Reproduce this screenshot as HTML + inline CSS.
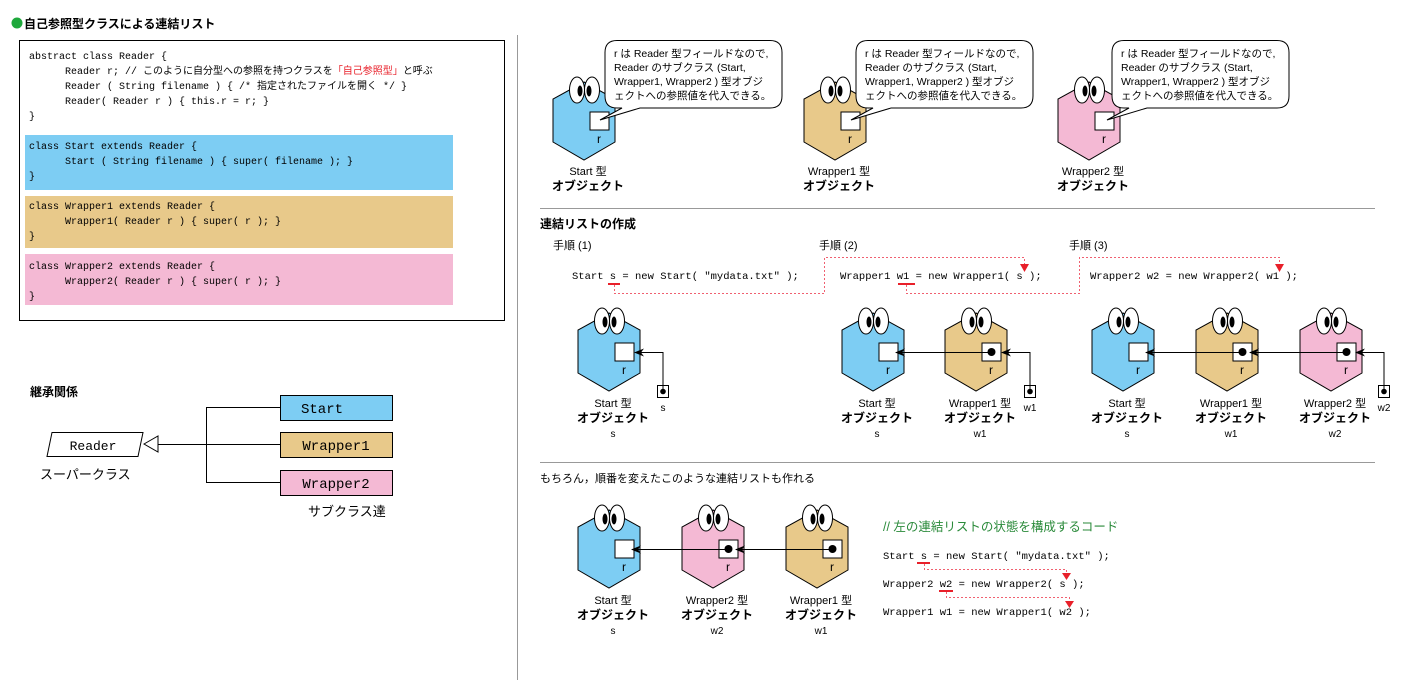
<!DOCTYPE html>
<html><head><meta charset="utf-8"><style>
html,body{margin:0;padding:0;background:#fff;}
svg{display:block;}
.m{font-family:"Liberation Mono","Noto Sans CJK JP",monospace;}
.s{font-family:"Liberation Sans","Noto Sans CJK JP",sans-serif;}
</style></head><body>
<svg width="1408" height="695" viewBox="0 0 1408 695" xmlns="http://www.w3.org/2000/svg">
<defs>
<marker id="ah" markerWidth="10" markerHeight="8" refX="9" refY="4" orient="auto" markerUnits="userSpaceOnUse"><path d="M0,0 L10,4 L0,8 L3,4 Z" fill="#000"/></marker>
<g id="hb"><path d="M0,-37 L31,-20 L31,23 L0,41 L-31,23 L-31,-20 Z" stroke="#000" stroke-width="1"/></g>
<g id="face">
<ellipse cx="-7" cy="-29" rx="7.5" ry="13" fill="#fff" stroke="#000"/>
<ellipse cx="8" cy="-29" rx="7.5" ry="13" fill="#fff" stroke="#000"/>
<ellipse cx="-4" cy="-28" rx="2.5" ry="5.5" fill="#000"/>
<ellipse cx="5" cy="-28" rx="2.5" ry="5.5" fill="#000"/>
<rect x="6" y="-7" width="19" height="18" fill="#fff" stroke="#000"/>
<text x="15" y="24" font-family="Liberation Sans,sans-serif" font-size="12" text-anchor="middle">r</text>
</g>
<g id="hS"><use href="#hb" fill="#7dcdf3"/><use href="#face"/></g>
<g id="hW1"><use href="#hb" fill="#e8c98a"/><use href="#face"/></g>
<g id="hW2"><use href="#hb" fill="#f4b9d4"/><use href="#face"/></g>
<g id="dot"><circle cx="15.5" cy="2" r="4" fill="#000"/></g>
</defs>

<circle cx="17" cy="23" r="5.5" fill="#1ea83c"/>
<text x="24" y="28" class="s" font-size="12" font-weight="bold">自己参照型クラスによる連結リスト</text>

<rect x="19.5" y="40.5" width="485" height="280" fill="#fff" stroke="#000"/>
<rect x="25" y="135" width="428" height="55" fill="#7dcdf3"/>
<rect x="25" y="196" width="428" height="52" fill="#e8c98a"/>
<rect x="25" y="254" width="428" height="51" fill="#f4b9d4"/>
<g class="m" font-size="10">
<text x="29" y="59">abstract class Reader {</text>
<text x="65" y="74">Reader r; // このように自分型への参照を持つクラスを<tspan fill="#e8202a">「自己参照型」</tspan>と呼ぶ</text>
<text x="65" y="89">Reader ( String filename ) { /* 指定されたファイルを開く */ }</text>
<text x="65" y="104">Reader( Reader r ) { this.r = r; }</text>
<text x="29" y="119">}</text>
<text x="29" y="149">class Start extends Reader {</text>
<text x="65" y="164">Start ( String filename ) { super( filename ); }</text>
<text x="29" y="179">}</text>
<text x="29" y="209">class Wrapper1 extends Reader {</text>
<text x="65" y="224">Wrapper1( Reader r ) { super( r ); }</text>
<text x="29" y="239">}</text>
<text x="29" y="269">class Wrapper2 extends Reader {</text>
<text x="65" y="284">Wrapper2( Reader r ) { super( r ); }</text>
<text x="29" y="299">}</text>
</g>

<text x="30" y="396" class="s" font-size="12" font-weight="bold">継承関係</text>
<path d="M52,432.5 L143,432.5 L138,456.5 L47,456.5 Z" fill="#fff" stroke="#000"/>
<text x="93" y="450" class="m" font-size="13" text-anchor="middle">Reader</text>
<path d="M144,444 L158,436 L158,452 Z" fill="#fff" stroke="#000"/>
<path d="M158,444.5 H206.5 M206.5,407.5 V482.5 M206,407.5 H280 M206,444.5 H280 M206,482.5 H280" stroke="#000" fill="none"/>
<rect x="280.5" y="395.5" width="112" height="25" fill="#7dcdf3" stroke="#000"/>
<rect x="280.5" y="432.5" width="112" height="25" fill="#e8c98a" stroke="#000"/>
<rect x="280.5" y="470.5" width="112" height="25" fill="#f4b9d4" stroke="#000"/>
<g class="m" font-size="14" text-anchor="middle">
<text x="322" y="413">Start</text><text x="336" y="450">Wrapper1</text><text x="336" y="488">Wrapper2</text>
</g>
<text x="40" y="479" class="s" font-size="13">スーパークラス</text>
<text x="308" y="516" class="s" font-size="13">サブクラス達</text>

<line x1="517.5" y1="35" x2="517.5" y2="680" stroke="#999"/>
<line x1="540" y1="208.5" x2="1375" y2="208.5" stroke="#999"/>
<line x1="540" y1="462.5" x2="1375" y2="462.5" stroke="#999"/>

<use href="#hS" x="584" y="119"/>
<use href="#hW1" x="835" y="119"/>
<use href="#hW2" x="1089" y="119"/>
<g class="s" font-size="10.5">
<g>
<path d="M617,40.5 H770 Q782,40.5 782,52.5 V96 Q782,108 770,108 H640 L600,120 L622,108 H617 Q605,108 605,96 V52.5 Q605,40.5 617,40.5 Z" fill="#fff" stroke="#000"/>
<text x="614" y="57">r は Reader 型フィールドなので,</text>
<text x="614" y="71">Reader のサブクラス (Start,</text>
<text x="614" y="85">Wrapper1, Wrapper2 ) 型オブジ</text>
<text x="614" y="99">ェクトへの参照値を代入できる。</text>
</g>
<g transform="translate(251,0)">
<path d="M617,40.5 H770 Q782,40.5 782,52.5 V96 Q782,108 770,108 H640 L600,120 L622,108 H617 Q605,108 605,96 V52.5 Q605,40.5 617,40.5 Z" fill="#fff" stroke="#000"/>
<text x="614" y="57">r は Reader 型フィールドなので,</text>
<text x="614" y="71">Reader のサブクラス (Start,</text>
<text x="614" y="85">Wrapper1, Wrapper2 ) 型オブジ</text>
<text x="614" y="99">ェクトへの参照値を代入できる。</text>
</g>
<g transform="translate(507,0)">
<path d="M617,40.5 H770 Q782,40.5 782,52.5 V96 Q782,108 770,108 H640 L600,120 L622,108 H617 Q605,108 605,96 V52.5 Q605,40.5 617,40.5 Z" fill="#fff" stroke="#000"/>
<text x="614" y="57">r は Reader 型フィールドなので,</text>
<text x="614" y="71">Reader のサブクラス (Start,</text>
<text x="614" y="85">Wrapper1, Wrapper2 ) 型オブジ</text>
<text x="614" y="99">ェクトへの参照値を代入できる。</text>
</g>
</g>
<g class="s" text-anchor="middle">
<text x="588" y="175" font-size="11">Start 型</text><text x="588" y="190" font-size="12" font-weight="bold">オブジェクト</text>
<text x="839" y="175" font-size="11">Wrapper1 型</text><text x="839" y="190" font-size="12" font-weight="bold">オブジェクト</text>
<text x="1093" y="175" font-size="11">Wrapper2 型</text><text x="1093" y="190" font-size="12" font-weight="bold">オブジェクト</text>
</g>

<text x="540" y="228" class="s" font-size="12" font-weight="bold">連結リストの作成</text>
<g class="s" font-size="11">
<text x="553" y="249">手順 (1)</text><text x="819" y="249">手順 (2)</text><text x="1069" y="249">手順 (3)</text>
</g>
<g class="m" font-size="10.5">
<text x="572" y="279">Start s = new Start( "mydata.txt" );</text>
<text x="840" y="279">Wrapper1 w1 = new Wrapper1( s );</text>
<text x="1090" y="279">Wrapper2 w2 = new Wrapper2( w1 );</text>
</g>
<path d="M608,284 H620 M898,284 H915" stroke="#e8202a" stroke-width="2"/>
<path d="M614.5,285 V293.5 H824.5 V257.5 H1024.5 V266" stroke="#f06070" stroke-dasharray="2,2" fill="none"/>
<path d="M906.5,285 V293.5 H1079.5 V257.5 H1279.5 V266" stroke="#f06070" stroke-dasharray="2,2" fill="none"/>
<path d="M1020,264 L1029,264 L1024.5,272 Z M1275,264 L1284,264 L1279.5,272 Z" fill="#e8202a"/>

<use href="#hS" x="609" y="350"/>
<rect x="657.5" y="385.5" width="11" height="12" fill="#fff" stroke="#000"/><circle cx="663" cy="391.5" r="2.8"/>
<path d="M663,391 V352.5 H635" stroke="#000" fill="none" marker-end="url(#ah)"/>
<use href="#hS" x="873" y="350"/>
<use href="#hW1" x="976" y="350"/><use href="#dot" x="976" y="350"/>
<path d="M991,352.5 H896" stroke="#000" fill="none" marker-end="url(#ah)"/>
<rect x="1024.5" y="385.5" width="11" height="12" fill="#fff" stroke="#000"/><circle cx="1030" cy="391.5" r="2.8"/>
<path d="M1030,391 V352.5 H1002" stroke="#000" fill="none" marker-end="url(#ah)"/>
<use href="#hS" x="1123" y="350"/>
<use href="#hW1" x="1227" y="350"/><use href="#dot" x="1227" y="350"/>
<use href="#hW2" x="1331" y="350"/><use href="#dot" x="1331" y="350"/>
<path d="M1242,352.5 H1146" stroke="#000" fill="none" marker-end="url(#ah)"/>
<path d="M1346,352.5 H1250" stroke="#000" fill="none" marker-end="url(#ah)"/>
<rect x="1378.5" y="385.5" width="11" height="12" fill="#fff" stroke="#000"/><circle cx="1384" cy="391.5" r="2.8"/>
<path d="M1384,391 V352.5 H1356" stroke="#000" fill="none" marker-end="url(#ah)"/>

<g class="s" text-anchor="middle" font-size="11">
<text x="663" y="411" font-size="10">s</text><text x="1030" y="411" font-size="10">w1</text><text x="1384" y="411" font-size="10">w2</text>
<text x="613" y="407">Start 型</text><text x="613" y="422" font-size="12" font-weight="bold">オブジェクト</text><text x="613" y="437" font-size="10">s</text>
<text x="877" y="407">Start 型</text><text x="877" y="422" font-size="12" font-weight="bold">オブジェクト</text><text x="877" y="437" font-size="10">s</text>
<text x="980" y="407">Wrapper1 型</text><text x="980" y="422" font-size="12" font-weight="bold">オブジェクト</text><text x="980" y="437" font-size="10">w1</text>
<text x="1127" y="407">Start 型</text><text x="1127" y="422" font-size="12" font-weight="bold">オブジェクト</text><text x="1127" y="437" font-size="10">s</text>
<text x="1231" y="407">Wrapper1 型</text><text x="1231" y="422" font-size="12" font-weight="bold">オブジェクト</text><text x="1231" y="437" font-size="10">w1</text>
<text x="1335" y="407">Wrapper2 型</text><text x="1335" y="422" font-size="12" font-weight="bold">オブジェクト</text><text x="1335" y="437" font-size="10">w2</text>
</g>

<text x="540" y="482" class="s" font-size="11">もちろん，順番を変えたこのような連結リストも作れる</text>
<use href="#hS" x="609" y="547"/>
<use href="#hW2" x="713" y="547"/><use href="#dot" x="713" y="547"/>
<use href="#hW1" x="817" y="547"/><use href="#dot" x="817" y="547"/>
<path d="M728,549.5 H632" stroke="#000" fill="none" marker-end="url(#ah)"/>
<path d="M832,549.5 H736" stroke="#000" fill="none" marker-end="url(#ah)"/>
<g class="s" text-anchor="middle" font-size="11">
<text x="613" y="604">Start 型</text><text x="613" y="619" font-size="12" font-weight="bold">オブジェクト</text><text x="613" y="634" font-size="10">s</text>
<text x="717" y="604">Wrapper2 型</text><text x="717" y="619" font-size="12" font-weight="bold">オブジェクト</text><text x="717" y="634" font-size="10">w2</text>
<text x="821" y="604">Wrapper1 型</text><text x="821" y="619" font-size="12" font-weight="bold">オブジェクト</text><text x="821" y="634" font-size="10">w1</text>
</g>
<text x="883" y="531" class="s" font-size="12.5" fill="#2a8a3a">// 左の連結リストの状態を構成するコード</text>
<g class="m" font-size="10.5">
<text x="883" y="559">Start s = new Start( "mydata.txt" );</text>
<text x="883" y="587">Wrapper2 w2 = new Wrapper2( s );</text>
<text x="883" y="615">Wrapper1 w1 = new Wrapper1( w2 );</text>
</g>
<path d="M917,563 H930 M939,591 H953" stroke="#e8202a" stroke-width="2"/>
<path d="M924.5,564 V569.5 H1066.5 V575 M946.5,592 V597.5 H1069.5 V603" stroke="#f06070" stroke-dasharray="2,2" fill="none"/>
<path d="M1062,573 L1071,573 L1066.5,580 Z M1065,601 L1074,601 L1069.5,608 Z" fill="#e8202a"/>
</svg>
</body></html>
